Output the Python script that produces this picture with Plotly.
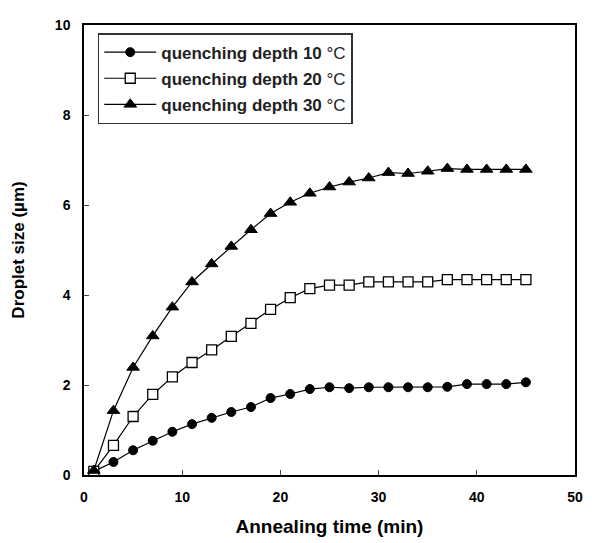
import plotly.graph_objects as go

time_min = [1, 3, 5, 7, 9, 11, 13, 15, 17, 19, 21, 23, 25, 27, 29, 31, 33, 35, 37, 39, 41, 43, 45]

depth_10 = [0.08, 0.29, 0.55, 0.76, 0.96, 1.13, 1.27, 1.40, 1.51, 1.71, 1.80, 1.91, 1.95,
            1.93, 1.95, 1.95, 1.95, 1.95, 1.96, 2.02, 2.02, 2.02, 2.06]
depth_20 = [0.08, 0.66, 1.30, 1.79, 2.18, 2.50, 2.78, 3.08, 3.37, 3.68, 3.94, 4.14, 4.22,
            4.22, 4.29, 4.29, 4.29, 4.29, 4.34, 4.34, 4.34, 4.34, 4.34]
depth_30 = [0.1, 1.43, 2.39, 3.09, 3.73, 4.29, 4.69, 5.08, 5.45, 5.81, 6.06, 6.26, 6.40,
            6.51, 6.60, 6.72, 6.70, 6.75, 6.81, 6.79, 6.79, 6.79, 6.79]

names = ["<b>quenching depth 10</b> °C", "<b>quenching depth 20</b> °C", "<b>quenching depth 30</b> °C"]
x_ticks = [0, 10, 20, 30, 40, 50]
y_ticks = [0, 2, 4, 6, 8, 10]

FONT = "Arial, Liberation Sans, sans-serif"

fig = go.Figure()
symbols = ["circle", "square", "triangle-up"]
sizes = [9, 10, 11]
fills = ["black", "white", "black"]
for i, (ys, nm) in enumerate(zip([depth_10, depth_20, depth_30], names)):
    fig.add_trace(go.Scatter(
        x=time_min, y=ys, mode="lines+markers", name=nm,
        legendgroup=f"g{i}",
        line=dict(color="black", width=1.2),
        marker=dict(symbol=symbols[i], size=sizes[i], color=fills[i],
                    line=dict(color="black", width=1.3 if i == 1 else 1)),
    ))

# The page body has an 8px margin, so the figure is sized to fit the window.
fig.update_layout(
    width=584, height=535,
    margin=dict(l=71, r=9, t=16, b=67),
    paper_bgcolor="white", plot_bgcolor="white",
    font=dict(family=FONT, color="black", size=13),
    showlegend=True,
    legend=dict(
        x=0.028, y=0.982, xanchor="left", yanchor="top",
        bordercolor="#333", borderwidth=1.5, bgcolor="white",
        font=dict(family=FONT, size=17, color="#222"),
        traceorder="grouped", tracegroupgap=1, itemwidth=52,
    ),
    xaxis=dict(
        range=[0, 50], tickvals=x_ticks, ticks="inside", ticklen=5, tickwidth=1.2,
        showline=True, linecolor="black", linewidth=1.5, mirror=True,
        showgrid=False, zeroline=False,
        tickfont=dict(family=FONT, size=14, weight="bold"),
        ticklabelstandoff=8,
        title=dict(text="Annealing time (min)", standoff=16,
                   font=dict(family=FONT, size=19, weight="bold")),
    ),
    yaxis=dict(
        range=[0, 10], tickvals=y_ticks, ticks="inside", ticklen=5, tickwidth=1.2,
        showline=True, linecolor="black", linewidth=1.5, mirror=True,
        showgrid=False, zeroline=False,
        tickfont=dict(family=FONT, size=14, weight="bold"),
        ticklabelstandoff=9,
        title=dict(text="Droplet size (µm)", standoff=26,
                   font=dict(family=FONT, size=17, weight="bold")),
    ),
)

fig.write_html("out.html")
